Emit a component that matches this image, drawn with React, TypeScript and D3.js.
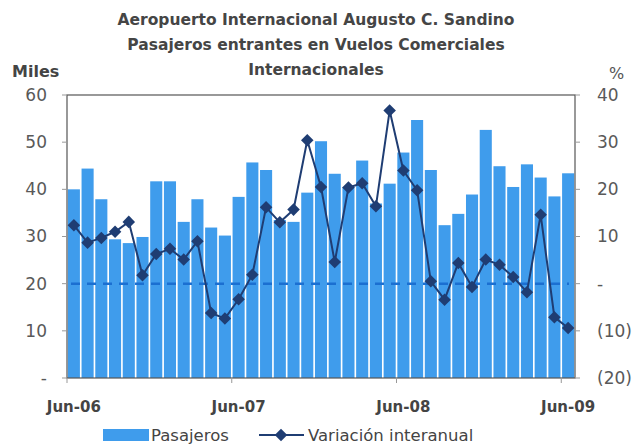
import * as d3 from 'd3';
import React, { useEffect, useRef } from 'react';

const months = [
  'Jun-06', 'Jul-06', 'Aug-06', 'Sep-06', 'Oct-06', 'Nov-06', 'Dec-06',
  'Jan-07', 'Feb-07', 'Mar-07', 'Apr-07', 'May-07', 'Jun-07', 'Jul-07',
  'Aug-07', 'Sep-07', 'Oct-07', 'Nov-07', 'Dec-07', 'Jan-08', 'Feb-08',
  'Mar-08', 'Apr-08', 'May-08', 'Jun-08', 'Jul-08', 'Aug-08', 'Sep-08',
  'Oct-08', 'Nov-08', 'Dec-08', 'Jan-09', 'Feb-09', 'Mar-09', 'Apr-09',
  'May-09', 'Jun-09',
];

// miles de pasajeros
const pasajeros = [
  40.0, 44.4, 37.9, 29.4, 28.6, 29.9, 41.7, 41.7, 33.1, 37.9, 31.9, 30.2,
  38.4, 45.7, 44.1, 33.5, 33.1, 39.3, 50.2, 43.3, 40.5, 46.1, 37.0, 41.2,
  47.8, 54.7, 44.1, 32.4, 34.8, 38.9, 52.6, 44.9, 40.5, 45.3, 42.5, 38.5,
  43.4,
];

// variación interanual %
const variacion = [
  12.4, 8.7, 9.7, 11.0, 13.1, 1.8, 6.3, 7.4, 5.1, 9.0, -6.2, -7.4,
  -3.3, 1.9, 16.2, 13.0, 15.7, 30.4, 20.5, 4.6, 20.4, 21.3, 16.4, 36.7,
  24.0, 19.8, 0.5, -3.4, 4.4, -0.7, 5.1, 4.0, 1.4, -1.8, 14.6, -7.1,
  -9.4,
];

const leftTicks = [0, 10, 20, 30, 40, 50, 60];
const rightTicks = [-20, -10, 0, 10, 20, 30, 40];
const axisLabels = ['Jun-06', 'Jun-07', 'Jun-08', 'Jun-09'];
const titleLines = [
  'Aeropuerto Internacional Augusto C. Sandino',
  'Pasajeros entrantes en Vuelos Comerciales',
  'Internacionales',
];

const font = "'DejaVu Sans', sans-serif";

const App = () => {
  const svgRef = useRef<SVGSVGElement>(null);

  useEffect(() => {
    const svg = d3.select(svgRef.current);
    svg.selectAll('*').remove();

    const width = 632;
    const height = 445;
    const left = 67, right = 575, top = 95, bottom = 378;

    const x = d3.scaleBand<string>()
      .domain(months)
      .range([left, right])
      .paddingInner(0.12)
      .paddingOuter(0.06);
    const step = x.step();
    const yL = d3.scaleLinear().domain([0, 60]).range([bottom, top]);
    const yR = d3.scaleLinear().domain([-20, 40]).range([bottom, top]);

    svg.attr('width', width).attr('height', height);
    svg.append('rect').attr('width', width).attr('height', height).attr('fill', 'white');

    // bars
    svg.append('g')
      .selectAll('rect')
      .data(pasajeros)
      .join('rect')
      .attr('x', (d, i) => x(months[i])!)
      .attr('y', d => yL(d))
      .attr('width', x.bandwidth())
      .attr('height', d => bottom - yL(d))
      .attr('fill', '#3f9cec');

    // zero line (dashed)
    svg.append('line')
      .attr('x1', left + 4).attr('x2', right - 6)
      .attr('y1', yR(0)).attr('y2', yR(0))
      .attr('stroke', '#1b6fd1')
      .attr('stroke-width', 2.5)
      .attr('stroke-dasharray', '9,7');

    // frame
    svg.append('rect')
      .attr('x', left).attr('y', top)
      .attr('width', right - left).attr('height', bottom - top)
      .attr('fill', 'none')
      .attr('stroke', '#555')
      .attr('stroke-width', 1.2);

    // left axis
    const gl = svg.append('g');
    gl.selectAll('line').data(leftTicks).join('line')
      .attr('x1', left - 5).attr('x2', left)
      .attr('y1', d => yL(d)).attr('y2', d => yL(d))
      .attr('stroke', '#999');
    gl.selectAll('text').data(leftTicks).join('text')
      .attr('x', 47).attr('y', d => yL(d))
      .attr('dy', '0.35em')
      .attr('text-anchor', 'end')
      .style('font-family', font).style('font-size', '17px')
      .attr('fill', '#595959')
      .text(d => (d === 0 ? '-' : d));

    // right axis
    const gr = svg.append('g');
    gr.selectAll('line').data(rightTicks).join('line')
      .attr('x1', right).attr('x2', right + 5)
      .attr('y1', d => yR(d)).attr('y2', d => yR(d))
      .attr('stroke', '#999');
    gr.selectAll('text').data(rightTicks).join('text')
      .attr('x', 597).attr('y', d => yR(d))
      .attr('dy', '0.35em')
      .attr('text-anchor', 'start')
      .style('font-family', font).style('font-size', '17px')
      .attr('fill', '#595959')
      .text(d => (d === 0 ? '-' : d < 0 ? `(${-d})` : d));

    // bottom axis
    const gb = svg.append('g');
    gb.selectAll('line').data(axisLabels).join('line')
      .attr('x1', d => x(d)! - (step - x.bandwidth()) / 2)
      .attr('x2', d => x(d)! - (step - x.bandwidth()) / 2)
      .attr('y1', bottom).attr('y2', bottom + 5)
      .attr('stroke', '#999');
    gb.selectAll('text').data(axisLabels).join('text')
      .attr('x', d => x(d)! + x.bandwidth() / 2)
      .attr('y', 412)
      .attr('text-anchor', 'middle')
      .style('font-family', font).style('font-size', '15px')
      .style('font-weight', 'bold')
      .attr('fill', '#444')
      .text(d => d);

    // line
    const line = d3.line<number>()
      .x((d, i) => x(months[i])! + x.bandwidth() / 2)
      .y(d => yR(d));
    svg.append('path')
      .datum(variacion)
      .attr('d', line)
      .attr('fill', 'none')
      .attr('stroke', '#1f3d73')
      .attr('stroke-width', 2);
    const diamond = d3.symbol().type(d3.symbolDiamond2).size(100);
    svg.append('g')
      .selectAll('path')
      .data(variacion)
      .join('path')
      .attr('transform', (d, i) => `translate(${x(months[i])! + x.bandwidth() / 2},${yR(d)})`)
      .attr('d', diamond())
      .attr('fill', '#1f3d73');

    // titles
    svg.append('g')
      .selectAll('text')
      .data(titleLines)
      .join('text')
      .attr('x', 316)
      .attr('y', (d, i) => 25 + i * 25)
      .attr('text-anchor', 'middle')
      .style('font-family', font).style('font-size', '15.5px')
      .style('font-weight', 'bold')
      .attr('fill', '#454545')
      .text(d => d);

    svg.append('text')
      .attr('x', 12).attr('y', 77)
      .style('font-family', font).style('font-size', '16px')
      .style('font-weight', 'bold')
      .attr('fill', '#444')
      .text('Miles');
    svg.append('text')
      .attr('x', 609).attr('y', 79)
      .style('font-family', font).style('font-size', '16px')
      .attr('fill', '#555')
      .text('%');

    // legend
    const lg = svg.append('g');
    lg.append('rect')
      .attr('x', 103).attr('y', 429).attr('width', 46).attr('height', 12)
      .attr('fill', '#3f9cec');
    lg.append('text')
      .attr('x', 151).attr('y', 441)
      .style('font-family', font).style('font-size', '16.5px')
      .attr('fill', '#444')
      .text('Pasajeros');
    lg.append('line')
      .attr('x1', 259).attr('x2', 304).attr('y1', 435).attr('y2', 435)
      .attr('stroke', '#1f3d73').attr('stroke-width', 2);
    lg.append('path')
      .attr('transform', 'translate(281,435)')
      .attr('d', diamond())
      .attr('fill', '#1f3d73');
    lg.append('text')
      .attr('x', 308).attr('y', 441)
      .style('font-family', font).style('font-size', '16.5px')
      .attr('fill', '#444')
      .text('Variación interanual');
  }, []);

  return <svg ref={svgRef} style={{ position: 'absolute', left: 0, top: 0 }} />;
};

export default App;
